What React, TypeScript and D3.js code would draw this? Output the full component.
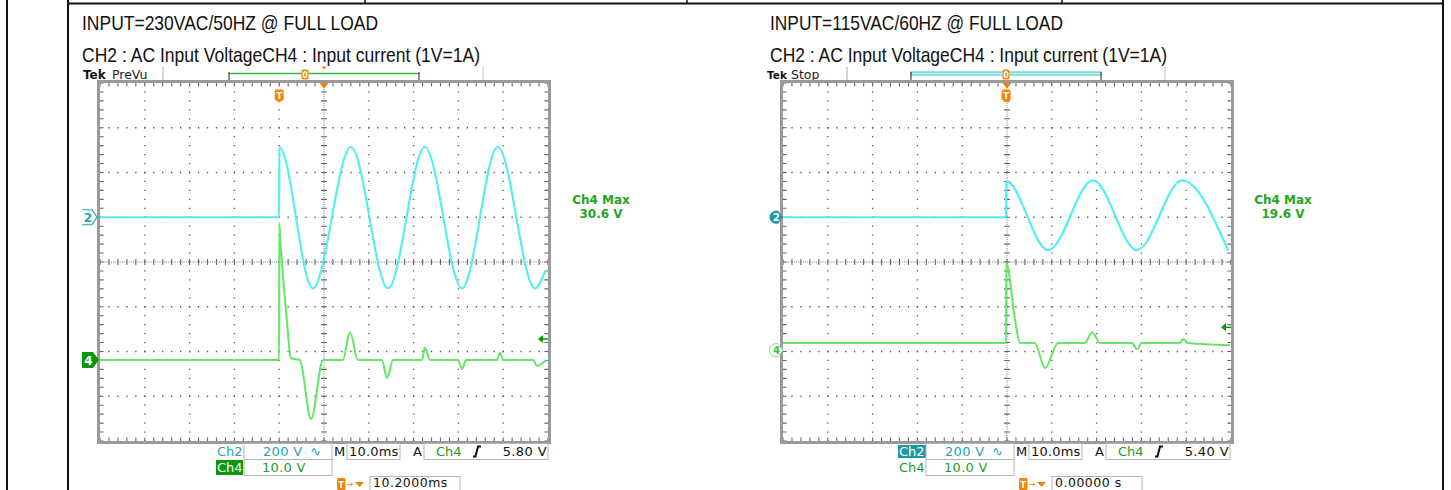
import React from "react";
import * as d3 from "d3";

type Pt = [number, number];

// ---------------- data read from the two scope captures ----------------
// time: ms from the left edge of the screen (10 div x 10 ms/div)
const screenTimeMs: [number, number] = [0, 100];
const ch2VoltsPerDiv = 200;
const ch4VoltsPerDiv = 10;

// 230VAC / 50Hz  - Ch2 AC input voltage (V)
const ch2At230: Pt[] = [
  [0, 0], [40.0, 0], [40.02, 314], [47.5, -318], [56.0, 314], [64.3, -318],
  [72.5, 314], [80.8, -318], [88.8, 314], [97.1, -318], [99.4, -237],
];
// 230VAC / 50Hz  - Ch4 input current (V, 1V = 1A)
const ch4At230: Pt[] = [
  [0, 0], [40.0, 0], [40.02, 30.6], [40.3, 26.1], [41.1, 15.6], [41.7, 8.9], [42.6, 0.4],
  [44.6, 0], [47.1, -13.2], [49.8, 0], [54.2, 0], [55.8, 6.2], [57.6, 0],
  [62.9, 0], [64.1, -4.0], [65.4, 0], [71.9, 0], [72.5, 2.7], [73.7, 0],
  [79.9, 0], [80.8, -2.0], [81.7, 0], [88.6, 0], [89.3, 1.6], [90.0, 0],
  [96.7, 0], [97.5, -1.3], [99.6, 0],
];
// 115VAC / 60Hz  - Ch2
const ch2At115: Pt[] = [
  [0, 0], [49.8, 0], [49.82, 160], [59.2, -147], [69.2, 165], [79.0, -147],
  [89.1, 165], [99.4, -150],
];
// 115VAC / 60Hz  - Ch4
const ch4At115: Pt[] = [
  [0, 1.6], [49.8, 1.6], [49.82, 19.6], [51.8, 6.7], [52.9, 1.6], [56.2, 1.6],
  [58.5, -4.0], [61.4, 1.6], [67.4, 1.6], [69.0, 4.0], [70.8, 1.6], [77.9, 1.6],
  [79.0, 0.2], [80.1, 1.6], [88.6, 1.6], [89.3, 2.5], [90.4, 1.6], [99.8, 1.1],
];

const titles = ["INPUT=230VAC/50HZ @ FULL LOAD", "INPUT=115VAC/60HZ @ FULL LOAD"];
const subtitle = "CH2 : AC Input VoltageCH4 : Input current (1V=1A)";
const acqStates = ["PreVu", "Stop"];
const ch4MaxValues = ["30.6 V", "19.6 V"];
const triggerLevels = ["5.80 V", "5.40 V"];
const triggerPositions = ["10.2000ms", "0.00000 s"];
const triggerTimesMs = [40.0, 49.8];
const triggerArrowVolts = [4.7, 5.1];
const ch2ScaleLabel = "200 V";
const ch4ScaleLabel = "10.0 V";
const timebaseLabel = "10.0ms";

// ---------------- layout ----------------
const C = {
  cyan: "#55eef4",
  green: "#66e866",
  teal: "#22a6b0",
  tealBg: "#1e98a2",
  gText: "#1e9e1e",
  gBg: "#0c960c",
  orange: "#f58200",
  grid: "#555",
  frame: "#9a9a9a",
  box: "#b4b4b4",
};

interface PanelCfg {
  idx: number;
  x0: number; x1: number; y0: number; y1: number;
  ox: number; // readout offset
  ch2GroundDiv: number; ch4GroundDiv: number;
  ch2: Pt[]; ch4: Pt[];
  markerX: number;
  leftStyle: boolean;
  tekX: number; tekSize: number; stateX: number; sepX: [number, number]; bracket: [number, number]; zeroX: number;
}

const panels: PanelCfg[] = [
  {
    idx: 0, x0: 100, x1: 548, y0: 83, y1: 441, ox: 0,
    ch2GroundDiv: 1.0, ch4GroundDiv: -2.19, ch2: ch2At230, ch4: ch4At230,
    markerX: 82, leftStyle: true, tekX: 83, tekSize: 12, stateX: 112, sepX: [163, 483], bracket: [229, 419], zeroX: 305,
  },
  {
    idx: 1, x0: 783, x1: 1231, y0: 83, y1: 441, ox: 682,
    ch2GroundDiv: 1.0, ch4GroundDiv: -1.97, ch2: ch2At115, ch4: ch4At115,
    markerX: 770, leftStyle: false, tekX: 767, tekSize: 10.5, stateX: 791, sepX: [847, 1165], bracket: [911, 1101], zeroX: 1006,
  },
];

const MONO = "'DejaVu Sans', sans-serif";

function Graticule({ x0, x1, y0, y1 }: { x0: number; x1: number; y0: number; y1: number }) {
  const dx = (x1 - x0) / 10;
  const dy = (y1 - y0) / 8;
  const sx = dx / 5;
  const sy = dy / 5;
  const cx = (x0 + x1) / 2;
  const cy = (y0 + y1) / 2;
  const els: React.ReactNode[] = [];
  for (let i = 1; i < 10; i++) {
    if (i === 5) continue;
    const x = x0 + i * dx;
    els.push(
      <line key={"v" + i} x1={x} x2={x} y1={y0} y2={y1} stroke={C.grid} strokeWidth={1.3}
        strokeDasharray={`1.3 ${sy - 1.3}`} strokeDashoffset={0.65} />
    );
  }
  for (let j = 1; j < 8; j++) {
    if (j === 4) continue;
    const y = y0 + j * dy;
    els.push(
      <line key={"h" + j} x1={x0} x2={x1} y1={y} y2={y} stroke={C.grid} strokeWidth={1.3}
        strokeDasharray={`1.3 ${sx - 1.3}`} strokeDashoffset={0.65} />
    );
  }
  return (
    <g>
      {els}
      {/* centre cross */}
      <line x1={x0} x2={x1} y1={cy} y2={cy} stroke="#777" strokeWidth={1} strokeDasharray="1 1.2" />
      <line x1={cx} x2={cx} y1={y0} y2={y1} stroke="#777" strokeWidth={1} strokeDasharray="1 1.2" />
      <line x1={x0} x2={x1} y1={cy} y2={cy} stroke="#666" strokeWidth={6}
        strokeDasharray={`1.1 ${sx - 1.1}`} strokeDashoffset={0.55} />
      <line x1={cx} x2={cx} y1={y0} y2={y1} stroke="#666" strokeWidth={6}
        strokeDasharray={`1.1 ${sy - 1.1}`} strokeDashoffset={0.55} />
      {/* frame ticks */}
      <line x1={x0 + 1.8} x2={x0 + 1.8} y1={y0} y2={y1} stroke="#666" strokeWidth={3.6}
        strokeDasharray={`1.1 ${sy - 1.1}`} strokeDashoffset={0.55} />
      <line x1={x1 - 1.8} x2={x1 - 1.8} y1={y0} y2={y1} stroke="#666" strokeWidth={3.6}
        strokeDasharray={`1.1 ${sy - 1.1}`} strokeDashoffset={0.55} />
      <line x1={x0} x2={x1} y1={y0 + 1.8} y2={y0 + 1.8} stroke="#666" strokeWidth={3.6}
        strokeDasharray={`1.1 ${sx - 1.1}`} strokeDashoffset={0.55} />
      <line x1={x0} x2={x1} y1={y1 - 1.8} y2={y1 - 1.8} stroke="#666" strokeWidth={3.6}
        strokeDasharray={`1.1 ${sx - 1.1}`} strokeDashoffset={0.55} />
      <rect x={x0 - 1.5} y={y0 - 1.5} width={x1 - x0 + 3} height={y1 - y0 + 3}
        fill="none" stroke={C.frame} strokeWidth={3} />
    </g>
  );
}

function TIcon({ cx, y, h = 13 }: { cx: number; y: number; h?: number }) {
  return (
    <g>
      <path d={`M${cx - 4.5},${y + 2} Q${cx - 4.5},${y} ${cx - 2.5},${y} L${cx + 2.5},${y} Q${cx + 4.5},${y} ${cx + 4.5},${y + 2} L${cx + 4.5},${y + h - 3} L${cx},${y + h} L${cx - 4.5},${y + h - 3} Z`}
        fill={C.orange} />
      <text x={cx} y={y + h - 3.5} textAnchor="middle" fontFamily={MONO} fontWeight="bold" fontSize={9} fill="#fff">T</text>
    </g>
  );
}

function EdgeSym({ x, y }: { x: number; y: number }) {
  return <path d={`M${x},${y + 5} L${x + 2.5},${y + 5} L${x + 5},${y - 5} L${x + 8},${y - 5}`} fill="none" stroke="#111" strokeWidth={2} />;
}

function Panel({ p }: { p: PanelCfg }) {
  const { x0, x1, y0, y1, ox, idx } = p;
  const x = d3.scaleLinear().domain(screenTimeMs).range([x0, x1]);
  const y2 = d3.scaleLinear()
    .domain([-(4 + p.ch2GroundDiv) * ch2VoltsPerDiv, (4 - p.ch2GroundDiv) * ch2VoltsPerDiv])
    .range([y1, y0]);
  const y4 = d3.scaleLinear()
    .domain([-(4 + p.ch4GroundDiv) * ch4VoltsPerDiv, (4 - p.ch4GroundDiv) * ch4VoltsPerDiv])
    .range([y1, y0]);
  const line2 = d3.line<Pt>().x((d) => x(d[0])).y((d) => y2(d[1])).curve(d3.curveMonotoneX);
  const line4 = d3.line<Pt>().x((d) => x(d[0])).y((d) => y4(d[1])).curve(d3.curveMonotoneX);
  const cx = (x0 + x1) / 2;
  const g2 = y2(0);
  const g4 = y4(0);
  const tx = x(triggerTimesMs[idx]);
  const ta = y4(triggerArrowVolts[idx]);
  const mx = p.markerX;
  const clipId = "clip" + idx;
  const r1 = 443.5, r2 = 459.5, r3 = 476.5;

  return (
    <g>
      <defs>
        <clipPath id={clipId}>
          <rect x={x0} y={y0} width={x1 - x0} height={y1 - y0} />
        </clipPath>
      </defs>
      {/* top status bar */}
      <text x={p.tekX} y={79} fontFamily={MONO} fontWeight="bold" fontSize={p.tekSize} fill="#111">Tek</text>
      <text x={p.stateX} y={79} fontFamily={MONO} fontSize={12.5} fill="#222">{acqStates[idx]}</text>
      <line x1={p.sepX[0]} x2={p.sepX[0]} y1={67} y2={81} stroke="#bbb" strokeWidth={1.2} />
      <line x1={p.sepX[1]} x2={p.sepX[1]} y1={67} y2={81} stroke="#ccc" strokeWidth={1.2} />
      <line x1={p.sepX[0]} x2={p.sepX[1]} y1={80.5} y2={80.5} stroke="#c8c8c8" strokeWidth={1} />
      {idx === 0 ? (
        <line x1={p.bracket[0]} x2={p.bracket[1]} y1={73.5} y2={73.5} stroke="#3cb83c" strokeWidth={1.3} />
      ) : (
        <rect x={p.bracket[0]} y={72} width={p.bracket[1] - p.bracket[0]} height={3} fill="#c8f4f6" stroke="#3cc4cc" strokeWidth={1} />
      )}
      <line x1={p.bracket[0]} x2={p.bracket[0]} y1={72} y2={80} stroke="#444" strokeWidth={1.2} />
      <line x1={p.bracket[1]} x2={p.bracket[1]} y1={72} y2={80} stroke="#444" strokeWidth={1.2} />
      <rect x={p.zeroX - 3.5} y={69.5} width={7} height={10} rx={2} fill={C.orange} />
      <text x={p.zeroX} y={78} textAnchor="middle" fontFamily={MONO} fontSize={8} fontWeight="bold" fill="#fff">0</text>
      {idx === 0 && <path d={`M${cx - 2.5},66.5 L${cx + 2.5},66.5 L${cx},69.5 Z`} fill={C.orange} />}

      <Graticule x0={x0} x1={x1} y0={y0} y1={y1} />

      {/* expansion point and trigger position markers */}
      <path d={`M${cx - 4.5},${y0} L${cx + 4.5},${y0} L${cx},${y0 + 5.5} Z`} fill={C.orange} />
      <TIcon cx={tx} y={89.5} />

      {/* traces */}
      <g clipPath={`url(#${clipId})`}>
        <path d={line2(p.ch2) || ""} fill="none" stroke={C.cyan} strokeWidth={2.2} strokeLinejoin="round" />
        <path d={line4(p.ch4) || ""} fill="none" stroke={C.green} strokeWidth={2.1} strokeLinejoin="round" />
      </g>

      {/* channel ground markers */}
      {p.leftStyle ? (
        <g>
          <path d={`M${mx},${g2 - 7.5} L${mx + 10},${g2 - 7.5} L${mx + 15},${g2} L${mx + 10},${g2 + 7.5} L${mx},${g2 + 7.5}`} fill="none" stroke={C.teal} strokeWidth={1.2} />
          <text x={mx + 6} y={g2 + 4.5} textAnchor="middle" fontFamily={MONO} fontWeight="bold" fontSize={12} fill={C.teal}>2</text>
          <path d={`M${mx},${g4 - 8} L${mx + 11},${g4 - 8} L${mx + 17},${g4} L${mx + 11},${g4 + 8} L${mx},${g4 + 8} Z`} fill={C.gBg} />
          <text x={mx + 6.5} y={g4 + 4.5} textAnchor="middle" fontFamily={MONO} fontWeight="bold" fontSize={12} fill="#fff">4</text>
        </g>
      ) : (
        <g>
          <path d={`M${mx + 6},${g2 - 6.5} L${mx + 8},${g2 - 6.5} L${mx + 13},${g2} L${mx + 8},${g2 + 6.5} L${mx + 6},${g2 + 6.5} A6.5,6.5 0 0 1 ${mx + 6},${g2 - 6.5} Z`} fill={C.tealBg} />
          <text x={mx + 6.5} y={g2 + 4} textAnchor="middle" fontFamily={MONO} fontWeight="bold" fontSize={10.5} fill="#fff">2</text>
          <path d={`M${mx + 6},${g4 - 6.5} L${mx + 8},${g4 - 6.5} L${mx + 13},${g4} L${mx + 8},${g4 + 6.5} L${mx + 6},${g4 + 6.5} A6.5,6.5 0 0 1 ${mx + 6},${g4 - 6.5} Z`} fill="#fff" stroke="#8fd88f" strokeWidth={1} />
          <text x={mx + 6.5} y={g4 + 4} textAnchor="middle" fontFamily={MONO} fontWeight="bold" fontSize={10} fill="#3cbf3c">4</text>
        </g>
      )}

      {/* trigger level arrow */}
      <path d={`M${x1 - 10},${ta} L${x1 - 5},${ta - 4} L${x1 - 5},${ta + 4} Z`} fill={C.gBg} />
      <line x1={x1 - 6} x2={x1} y1={ta} y2={ta} stroke={C.gBg} strokeWidth={1.5} />

      {/* Ch4 Max measurement */}
      <text x={601 + ox} y={204} textAnchor="middle" fontFamily={MONO} fontWeight="bold" fontSize={12} fill="#22a622">Ch4 Max</text>
      <text x={601 + ox} y={218} textAnchor="middle" fontFamily={MONO} fontWeight="bold" fontSize={12} fill="#22a622">{ch4MaxValues[idx]}</text>

      {/* readout row 1 */}
      {idx === 1 && <rect x={216 + ox} y={r1 + 1.5} width={28} height={13} fill={C.tealBg} />}
      <text x={217 + ox} y={456} fontFamily={MONO} fontSize={13} fill={idx === 1 ? "#fff" : C.teal}>Ch2</text>
      <rect x={244 + ox} y={r1} width={88} height={16} fill="none" stroke={C.box} strokeWidth={1} />
      <text x={263 + ox} y={456} fontFamily={MONO} fontSize={13} letterSpacing={0.3} fill={C.teal}>{ch2ScaleLabel}</text>
      <text x={310 + ox} y={456} fontFamily={MONO} fontSize={13} fill={C.teal}>∿</text>
      <text x={334 + ox} y={456} fontFamily={MONO} fontSize={13} fill="#111">M</text>
      <rect x={347 + ox} y={r1} width={53} height={16} fill="none" stroke={C.box} strokeWidth={1} />
      <text x={349 + ox} y={456} fontFamily={MONO} fontSize={13} letterSpacing={0.2} fill="#111">{timebaseLabel}</text>
      <text x={413 + ox} y={456} fontFamily={MONO} fontSize={13} fill="#111">A</text>
      <rect x={424 + ox} y={r1} width={124} height={16} fill="none" stroke={C.box} strokeWidth={1} />
      <text x={436 + ox} y={456} fontFamily={MONO} fontSize={13} fill={C.gText}>Ch4</text>
      <EdgeSym x={473 + ox} y={451.5} />
      <text x={547 + ox} y={456} textAnchor="end" fontFamily={MONO} fontSize={13} letterSpacing={0.4} fill="#111">{triggerLevels[idx]}</text>

      {/* readout row 2 */}
      {idx === 0 && <rect x={216 + ox} y={r2 + 0.5} width={27} height={15} fill={C.gBg} />}
      <text x={217 + ox} y={472} fontFamily={MONO} fontSize={13} fill={idx === 0 ? "#fff" : C.gText}>Ch4</text>
      <rect x={244 + ox} y={r2} width={88} height={16} fill="none" stroke={C.box} strokeWidth={1} />
      <text x={262 + ox} y={472} fontFamily={MONO} fontSize={13} letterSpacing={0.3} fill={C.gText}>{ch4ScaleLabel}</text>

      {/* readout row 3 */}
      <rect x={337 + ox} y={478} width={8.5} height={12} rx={1.5} fill={C.orange} />
      <text x={341.2 + ox} y={487.5} textAnchor="middle" fontFamily={MONO} fontWeight="bold" fontSize={8.5} fill="#fff">T</text>
      <text x={346 + ox} y={487} fontFamily={MONO} fontSize={8.5} fill={C.orange}>→</text>
      <path d={`M${355 + ox},482 L${364 + ox},482 L${359.5 + ox},487 Z`} fill={C.orange} />
      <rect x={370 + ox} y={r3} width={90} height={16} fill="none" stroke={C.box} strokeWidth={1} />
      <text x={373 + ox} y={487} fontFamily={MONO} fontSize={12.5} letterSpacing={0.5} fill="#111">{triggerPositions[idx]}</text>
    </g>
  );
}

export default function App() {
  return (
    <svg width={1451} height={490} viewBox="0 0 1451 490"
      style={{ position: "absolute", left: 0, top: 0, background: "#fff" }}>
      <rect x={0} y={0} width={1451} height={490} fill="#fff" />
      {/* table frame */}
      <line x1={7} x2={7} y1={0} y2={490} stroke="#111" strokeWidth={2} />
      <line x1={68} x2={68} y1={0} y2={490} stroke="#111" strokeWidth={2} />
      <line x1={1443} x2={1443} y1={0} y2={490} stroke="#111" strokeWidth={2} />
      <line x1={67} x2={1444} y1={3.5} y2={3.5} stroke="#111" strokeWidth={2} />
      {[365, 687, 1062].map((v) => (
        <line key={v} x1={v} x2={v} y1={0} y2={3} stroke="#111" strokeWidth={1.5} />
      ))}

      {/* titles */}
      {[82, 770].map((tx, i) => (
        <g key={"t" + i}>
          <text x={tx} y={30} fontFamily="'Liberation Sans', Arial, sans-serif" fontSize={21}
            textLength={i === 0 ? 296 : 293} lengthAdjust="spacingAndGlyphs" fill="#111">{titles[i]}</text>
          <text x={tx} y={62} fontFamily="'Liberation Sans', Arial, sans-serif" fontSize={21}
            textLength={i === 0 ? 398 : 397} lengthAdjust="spacingAndGlyphs" fill="#111">{subtitle}</text>
        </g>
      ))}

      {panels.map((p) => (
        <Panel key={p.idx} p={p} />
      ))}
    </svg>
  );
}
